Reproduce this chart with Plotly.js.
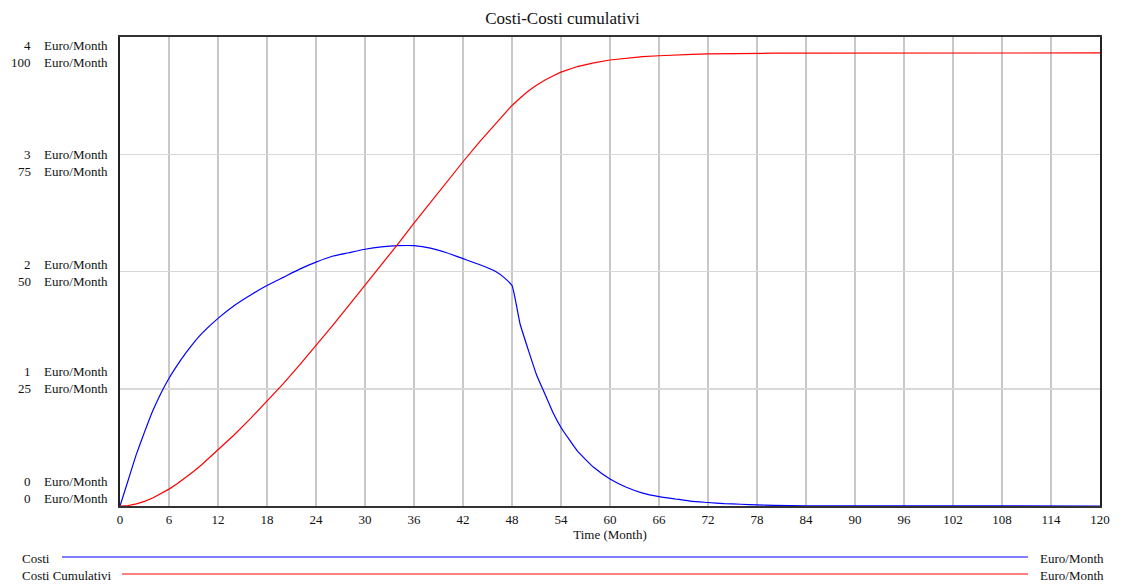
<!DOCTYPE html>
<html>
<head>
<meta charset="utf-8">
<script src="https://cdn.plot.ly/plotly-3.0.1.min.js"></script>
<style>html,body{margin:0;padding:0;background:#fff;}#chart{width:1125px;height:585px;}</style>
</head>
<body>
<div id="chart"></div>
<script>
// Costi (Euro/Month, left scale 0-4)
const costiT = [0,1,2,3,4,5,6,7,8,9,10,12,14,16,18,20,22,24,26,28,30,32,34,36,38,40,42,44,46,47,48,49,50,51,52,53,54,56,58,60,62,64,66,68,70,72,74,76,78,80,84,120];
const costiV = [0,0.22,0.44,0.63,0.81,0.96,1.09,1.20,1.30,1.39,1.47,1.60,1.71,1.80,1.88,1.95,2.02,2.08,2.13,2.16,2.19,2.21,2.22,2.22,2.20,2.16,2.11,2.06,2.00,1.95,1.88,1.55,1.33,1.12,0.96,0.80,0.67,0.47,0.33,0.23,0.16,0.11,0.08,0.06,0.04,0.03,0.02,0.015,0.01,0.005,0.002,0];
// Costi Cumulativi (Euro/Month, scale 0-100)
const cumT = [0,1,2,3,4,5,6,7,8,9,10,12,14,16,18,20,22,24,26,28,30,32,34,36,38,40,42,44,46,47,48,49,50,51,52,53,54,56,58,60,62,64,66,68,70,72,76,80,120];
const cumV = [0,0.1,0.45,0.98,1.7,2.6,3.6,4.75,6.0,7.35,8.8,11.9,15.2,18.7,22.3,26.1,30.1,34.2,38.4,42.7,47.0,51.4,55.8,60.3,64.7,69.1,73.4,77.6,81.6,83.6,85.4,87.0,88.5,89.7,90.8,91.7,92.5,93.7,94.5,95.1,95.5,95.8,96.0,96.2,96.3,96.4,96.5,96.55,96.6];

const xTicks = [0,6,12,18,24,30,36,42,48,54,60,66,72,78,84,90,96,102,108,114,120];
const leftTicks = [0,1,2,3,4];
const rightTicks = [0,25,50,75,100];
const unitLabel = "Euro/Month";
const seriesNames = ["Costi","Costi Cumulativi"];
const seriesColors = ["#0000ff","#ff0000"];

const FONT = "Liberation Serif, Times New Roman, serif";
const FS = 13;

const traces = [
  {x: costiT, y: costiV, type:'scatter', mode:'lines', name: seriesNames[0], line:{color:seriesColors[0], width:1.2, shape:'spline', smoothing:0.4}, yaxis:'y'},
  {x: cumT, y: cumV, type:'scatter', mode:'lines', name: seriesNames[1], line:{color:seriesColors[1], width:1.2}, yaxis:'y2'}
];

// y-label block offsets (px) for first and second label of each pair
const firstShift = [25, 17, 7, 0, -8];
const secondShift = [8, 0, -10, -17, -25];

const annotations = [];
const numX = (33-120)/980, unitX = (42-120)/980;
leftTicks.forEach((v,i)=>{
  annotations.push({xref:'paper', yref:'y', x:numX, y:v, yshift:firstShift[i], text:String(v), showarrow:false, xanchor:'right', yanchor:'middle', font:{family:FONT,size:FS,color:'#111'}});
  annotations.push({xref:'paper', yref:'y', x:unitX, y:v, yshift:firstShift[i], text:unitLabel, showarrow:false, xanchor:'left', yanchor:'middle', font:{family:FONT,size:FS,color:'#111'}});
  annotations.push({xref:'paper', yref:'y', x:numX, y:v, yshift:secondShift[i], text:String(rightTicks[i]), showarrow:false, xanchor:'right', yanchor:'middle', font:{family:FONT,size:FS,color:'#111'}});
  annotations.push({xref:'paper', yref:'y', x:unitX, y:v, yshift:secondShift[i], text:unitLabel, showarrow:false, xanchor:'left', yanchor:'middle', font:{family:FONT,size:FS,color:'#111'}});
});
// legend rows
const py = p => (506-p)/469;
const px = p => (p-120)/980;
const legendRows = [{y:558, lineStart:62}, {y:575, lineStart:122}];
const shapes = [];
seriesNames.forEach((n,i)=>{
  const r = legendRows[i];
  annotations.push({xref:'paper', yref:'paper', x:px(20), y:py(r.y), text:n, showarrow:false, xanchor:'left', yanchor:'middle', font:{family:FONT,size:FS,color:'#111'}});
  annotations.push({xref:'paper', yref:'paper', x:px(1038), y:py(r.y), text:unitLabel, showarrow:false, xanchor:'left', yanchor:'middle', font:{family:FONT,size:FS,color:'#111'}});
  shapes.push({type:'line', xref:'paper', yref:'paper', x0:px(r.lineStart), x1:px(1028), y0:py(r.y-1), y1:py(r.y-1), line:{color:seriesColors[i], width:1}});
});

const layout = {
  width:1125, height:585,
  margin:{l:120, r:25, t:37, b:79},
  paper_bgcolor:'#fff', plot_bgcolor:'#fff',
  showlegend:false,
  title:{text:'Costi-Costi cumulativi', x:0.5, xref:'container', xanchor:'center', y:1-18/585, yref:'container', yanchor:'middle', font:{family:FONT, size:17, color:'#111'}},
  xaxis:{range:[0,120], tickvals:xTicks, ticktext:xTicks.map(String), showgrid:true, gridcolor:'#c8c8c8', gridwidth:1.5, zeroline:false, showline:true, linecolor:'#333', linewidth:2, mirror:true, ticks:'', tickfont:{family:FONT,size:FS,color:'#111'},
    title:{text:'Time (Month)', font:{family:FONT,size:FS,color:'#111'}, standoff:2}},
  yaxis:{range:[0,4], tickvals:leftTicks, showticklabels:false, showgrid:true, gridcolor:'#d8d8d8', gridwidth:1.5, zeroline:false, showline:true, linecolor:'#222', linewidth:2, mirror:true, ticks:''},
  yaxis2:{range:[0,100], overlaying:'y', side:'right', showticklabels:false, showgrid:false, zeroline:false, showline:false, ticks:''},
  annotations: annotations,
  shapes: shapes
};

Plotly.newPlot('chart', traces, layout, {staticPlot:true, displayModeBar:false});
</script>
</body>
</html>
